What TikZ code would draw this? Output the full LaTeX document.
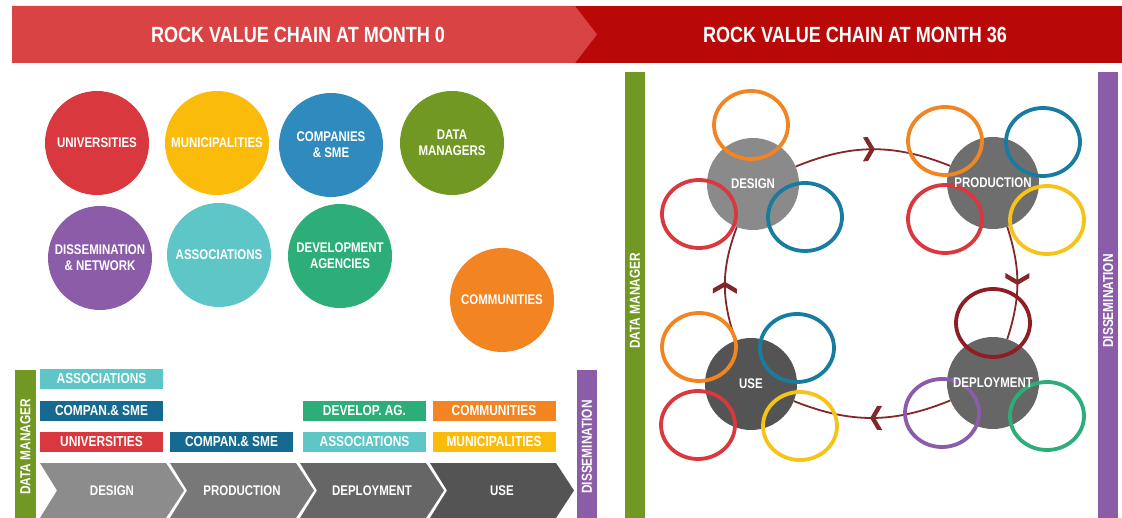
\documentclass[tikz,border=0pt]{standalone}
\usepackage{fontspec}
\newfontfamily\narrowsf[FakeStretch=0.82]{Liberation Sans}

\definecolor{headlight}{RGB}{218,67,68}
\definecolor{headdark}{RGB}{184,8,8}
\definecolor{myred}{RGB}{217,56,62}
\definecolor{myyellow}{RGB}{250,187,10}
\definecolor{myblue}{RGB}{47,139,190}
\definecolor{mydarkblue}{RGB}{22,106,145}
\definecolor{myolive}{RGB}{114,152,36}
\definecolor{mypurple}{RGB}{139,93,168}
\definecolor{mycyan}{RGB}{94,198,199}
\definecolor{mygreen}{RGB}{45,174,120}
\definecolor{myorange}{RGB}{242,132,34}
\definecolor{mymaroon}{RGB}{140,30,36}
\definecolor{ringblue}{RGB}{24,124,160}
\definecolor{ringyellow}{RGB}{246,196,24}
\definecolor{cyclered}{RGB}{130,40,42}

\begin{document}
\begin{tikzpicture}[x=1pt,y=-1pt,
  bubble/.style={circle,minimum size=104pt,inner sep=0pt,text=white,align=center,
    font=\narrowsf\bfseries\fontsize{14}{16}\selectfont},
  tag/.style={minimum width=123pt,minimum height=20pt,inner sep=0pt,text=white,
    font=\narrowsf\bfseries\fontsize{14.5}{16}\selectfont},
  hub/.style={circle,minimum size=92pt,inner sep=0pt},
  hublabel/.style={text=white,inner sep=0pt,font=\narrowsf\bfseries\fontsize{14}{16}\selectfont},
  bartext/.style={rotate=90,text=white,inner sep=0pt,font=\narrowsf\bfseries\fontsize{14.5}{16}\selectfont},
  ring/.style={draw=#1,line width=3.8pt},
  cyclearc/.style={draw=cyclered,line width=1.8pt},
  barbhead/.pic={\fill[cyclered]
      (2pt,0pt) -- (-5pt,-12pt) -- (-10pt,-12pt) -- (-3pt,0pt) -- (-10pt,12pt) -- (-5pt,12pt) -- cycle;}]
\def\top{463}
\def\bot{518}
  \useasboundingbox (0,0) rectangle (1122,518);
  \fill[white] (0,0) rectangle (1122,518);
  % header
  \fill[headdark] (575,6) rectangle (1122,63);
  \fill[headlight] (12,6) -- (575,6) -- (597,34.5) -- (575,63) -- (12,63) -- cycle;
  \node[text=white,font=\narrowsf\bfseries\fontsize{22}{24}\selectfont] (title0) at (298,35) {ROCK VALUE CHAIN AT MONTH 0};
  \node[text=white,font=\narrowsf\bfseries\fontsize{22}{24}\selectfont] (title36) at (855,35) {ROCK VALUE CHAIN AT MONTH 36};
  % actors at month 0
  \foreach \name/\x/\y/\col/\txt in {univ/97/143/myred/{UNIVERSITIES},
      munic/217/143/myyellow/{MUNICIPALITIES},
      compan/331/145/myblue/{COMPANIES\\\& SME},
      datam/452/143/myolive/{DATA\\MANAGERS},
      dissem/100/258/mypurple/{DISSEMINATION\\\& NETWORK},
      assoc/219/255/mycyan/{ASSOCIATIONS},
      devel/340/256/mygreen/{DEVELOPMENT\\AGENCIES},
      commun/502/300/myorange/{COMMUNITIES}}
    {
     \node[bubble,fill=\col] (\name) at (\x,\y) {\txt};
    }
  % value chain at month 0
  \fill[myolive] (15,370) rectangle (36,518);
  \node[bartext] (dm0) at (25.5,447) {DATA MANAGER};
  \fill[mypurple] (577,370) rectangle (597,518);
  \node[bartext] (ds0) at (587,447) {DISSEMINATION};
  \foreach \name/\x/\y/\col/\txt in {tagA/101.5/379/mycyan/{ASSOCIATIONS},
      tagB/101.5/411/mydarkblue/{COMPAN.\& SME},
      tagC/101.5/442/myred/{UNIVERSITIES},
      tagD/231.5/442/mydarkblue/{COMPAN.\& SME},
      tagE/364.5/411/mygreen/{DEVELOP. AG.},
      tagF/364.5/442/mycyan/{ASSOCIATIONS},
      tagG/494/411/myorange/{COMMUNITIES},
      tagH/494/442/myyellow/{MUNICIPALITIES}}
    {
     \node[tag,fill=\col] (\name) at (\x,\y) {\txt};
    }
  \foreach \i/\L/\g/\txt in {1/40/45/DESIGN,2/170/53/PRODUCTION,3/300/60/DEPLOYMENT,4/430/67/USE}
    {
     \fill[black!\g] (\L,\top) -- ++(126,0) -- (\L+144,490.5) -- (\L+126,\bot) -- (\L,\bot) -- (\L+17,490.5) -- cycle;
     \node[hublabel] (phase\i) at (\L+72,491) {\txt};
    }
  % value chain at month 36
  \fill[myolive] (625,72) rectangle (645,518);
  \node[bartext] (dm36) at (635,301) {DATA MANAGER};
  \fill[mypurple] (1098,72) rectangle (1118,518);
  \node[bartext] (ds36) at (1108,301) {DISSEMINATION};
  \node[hub,fill=black!46] (design) at (753,184) {};
  \node[hub,fill=black!57] (production) at (993,183) {};
  \node[hub,fill=black!60] (deployment) at (993,383) {};
  \node[hub,fill=black!67] (use) at (751,384) {};
  \draw[cyclearc] (design) to[bend left=22] pic[pos=0.5,sloped,allow upside down]{barbhead} (production);
  \draw[cyclearc] (production) to[bend left=18] pic[pos=0.5,sloped,allow upside down]{barbhead} (deployment);
  \draw[cyclearc] (deployment) to[bend left=22] pic[pos=0.5,sloped,allow upside down]{barbhead} (use);
  \draw[cyclearc] (use) to[bend left=20] pic[pos=0.5,sloped,allow upside down]{barbhead} (design);
  \foreach \x/\y/\col in {751/125/myorange,699/214/myred,805/217/ringblue,
      945/141/myorange,1043/142/ringblue,945/219/myred,1047/220/ringyellow,
      993/323/mymaroon,942/413/mypurple,1047/416/mygreen,
      699/347/myorange,797/348/ringblue,698/425/myred,800/426/ringyellow}
    {
     \draw[ring=\col] (\x,\y) ellipse (37pt and 34pt);
    }
  \node[hublabel] (designtxt) at (design) {DESIGN};
  \node[hublabel] (productiontxt) at (production) {PRODUCTION};
  \node[hublabel] (deploymenttxt) at (deployment) {DEPLOYMENT};
  \node[hublabel] (usetxt) at (use) {USE};
\end{tikzpicture}
\end{document}
